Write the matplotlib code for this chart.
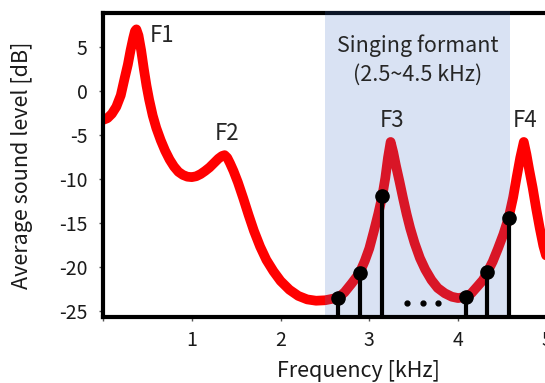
import matplotlib
matplotlib.use("Agg")
import matplotlib.pyplot as plt
from matplotlib.patches import Rectangle
from matplotlib.transforms import blended_transform_factory

plt.rcParams['font.family'] = ['Noto Sans CJK JP', 'DejaVu Sans']
plt.rcParams['axes.unicode_minus'] = False

# Spectral envelope (kHz, dB)
freq = [0.00, 0.05, 0.10, 0.15, 0.20, 0.245, 0.28, 0.31, 0.34, 0.36, 0.376,
        0.40, 0.43, 0.46, 0.49, 0.52, 0.56, 0.60, 0.65, 0.70, 0.75, 0.80,
        0.85, 0.90, 0.95, 1.00, 1.05, 1.10, 1.15, 1.20, 1.25, 1.30, 1.34,
        1.37, 1.40, 1.43, 1.47, 1.52, 1.58, 1.64, 1.70, 1.77, 1.84, 1.92,
        2.00, 2.10, 2.20, 2.30, 2.40, 2.50, 2.60, 2.65, 2.72, 2.80, 2.89,
        2.95, 3.00, 3.05, 3.10, 3.145, 3.18, 3.21, 3.24, 3.27, 3.30, 3.34,
        3.38, 3.42, 3.46, 3.51, 3.57, 3.63, 3.70, 3.77, 3.85, 3.93, 4.00,
        4.09, 4.15, 4.22, 4.28, 4.33, 4.39, 4.45, 4.51, 4.57, 4.62, 4.66,
        4.70, 4.74, 4.77, 4.80, 4.84, 4.88, 4.92, 4.96, 5.01, 5.07]
level = [-3.3, -3.1, -2.6, -1.8, -0.5, 1.5, 3.0, 4.6, 6.0, 6.8, 7.0,
         6.3, 4.6, 2.5, 0.6, -1.0, -2.8, -4.2, -5.6, -6.8, -7.8, -8.6,
         -9.2, -9.55, -9.75, -9.8, -9.7, -9.45, -9.1, -8.7, -8.2, -7.7, -7.4,
         -7.3, -7.6, -8.2, -9.1, -10.4, -12.2, -14.1, -15.9, -17.7, -19.2, -20.5,
         -21.6, -22.6, -23.3, -23.7, -23.85, -23.8, -23.6, -23.5, -22.9, -21.9, -20.7,
         -19.3, -17.9, -16.0, -14.0, -12.0, -9.9, -7.6, -5.8, -7.0, -8.5, -10.3,
         -12.2, -14.0, -15.6, -17.3, -19.0, -20.3, -21.5, -22.4, -23.0, -23.4, -23.55,
         -23.4, -23.0, -22.2, -21.5, -20.6, -19.4, -17.9, -16.3, -14.4, -12.1, -9.8,
         -7.6, -5.8, -7.2, -8.9, -11.0, -13.4, -15.6, -17.6, -19.4, -20.8]

# Harmonics (stems)
harm_freq = [2.65, 2.89, 3.145, 4.09, 4.33, 4.57]
harm_level = [-23.5, -20.7, -12.0, -23.4, -20.6, -14.4]

# ellipsis dots
dots_freq = [3.42, 3.60, 3.77]
dots_level = [-24.1, -24.1, -24.1]

formant_labels = ['F1', 'F2', 'F3', 'F4']
formant_pos = [(0.53, 5.6), (1.26, -5.6), (3.12, -4.05), (4.62, -4.1)]

band = (2.5, 4.58)
band_text = 'Singing formant\n(2.5~4.5 kHz)'

xticks = [0, 1, 2, 3, 4, 5]
xticklabels = ['', '1', '2', '3', '4', '5']
yticks = [5, 0, -5, -10, -15, -20, -25]

fig = plt.figure(figsize=(5.45, 3.83), dpi=100)
ax = fig.add_axes([103 / 545, 66 / 383, 506 / 545, 304 / 383])
ax.set_xlim(0, 5.7)
ax.set_ylim(-25.7, 8.86)

ax.plot(freq, level, color='#ff0000', lw=7, solid_capstyle='round',
        solid_joinstyle='round', zorder=2)

trans = blended_transform_factory(ax.transData, ax.transAxes)
rect = Rectangle((band[0], 0), band[1] - band[0], 1.008, transform=trans,
                 facecolor='#4472C4', alpha=0.2, edgecolor='none',
                 clip_on=False, zorder=3)
ax.add_patch(rect)

ymin = ax.get_ylim()[0]
ax.vlines(harm_freq, ymin, harm_level, color='black', lw=3, zorder=5)
ax.plot(harm_freq, harm_level, 'o', color='black', ms=9.5, zorder=6)
ax.plot(dots_freq, dots_level, 'o', color='black', ms=3.5, zorder=6)

for lab, (x, y) in zip(formant_labels, formant_pos):
    ax.text(x, y, lab, fontsize=16, color='#262626', ha='left', va='baseline', zorder=7)

ax.text(3.54, 3.5, band_text, fontsize=15.5, color='#262626', ha='center',
        va='center', linespacing=1.4, zorder=7)

for s in ax.spines.values():
    s.set_linewidth(3)
    s.set_color('black')
ax.spines['bottom'].set_zorder(4)

ax.set_xticks(xticks)
ax.set_xticklabels(xticklabels)
ax.set_yticks(yticks)
ax.tick_params(axis='both', direction='out', length=3, width=1, color='#555555',
               labelsize=14, labelcolor='#1a1a1a')
ax.tick_params(axis='y', pad=8)
ax.tick_params(axis='x', pad=6)

ax.set_xlabel('Frequency [kHz]', fontsize=15.5, color='#1a1a1a', va='center')
ax.set_ylabel('Average sound level [dB]', fontsize=15.5, color='#1a1a1a', va='center')
ax.xaxis.set_label_coords((358 - 103) / 506, (317 - 371) / 304)
ax.yaxis.set_label_coords((22 - 103) / 506, 0.5)

fig.savefig('out.png', dpi=100)
